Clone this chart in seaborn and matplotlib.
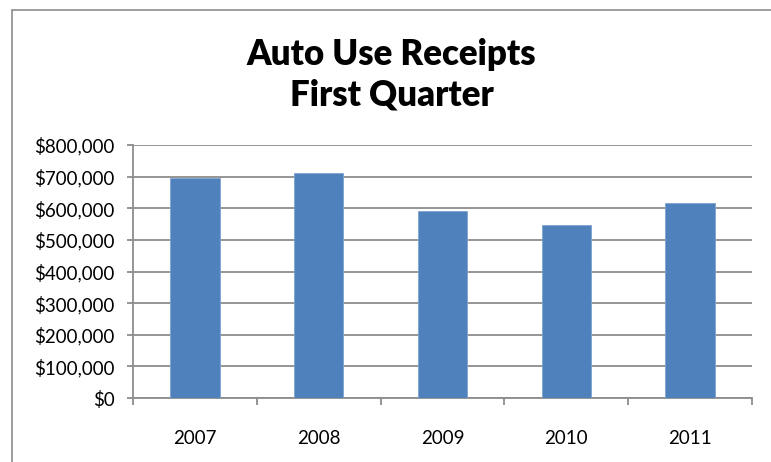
"""Auto use receipts, first quarter, bar chart in an Excel-like style."""

import matplotlib

matplotlib.use("Agg")
import matplotlib.pyplot as plt
import pandas as pd
import seaborn as sns
from matplotlib.lines import Line2D
from matplotlib.ticker import FuncFormatter, MultipleLocator

years = ["2007", "2008", "2009", "2010", "2011"]
receipts = [697000, 712000, 591000, 547000, 617000]
title = "Auto Use Receipts\nFirst Quarter"

BAR_COLOR = "#4F81BD"
GRID_COLOR = "#8C8C8C"


def dollars(value, _pos=None) -> str:
    return f"${value:,.0f}"


def main() -> None:
    sns.set_theme(style="white")
    plt.rcParams["font.family"] = ["Lato", "DejaVu Sans"]
    plt.rcParams["text.color"] = "black"

    df = pd.DataFrame({"year": years, "receipts": receipts})

    fig = plt.figure(figsize=(7.71, 4.62), dpi=100)
    ax = fig.add_axes([0.1725, 0.1385, 0.8029, 0.5476])

    sns.barplot(data=df, x="year", y="receipts", ax=ax, color=BAR_COLOR,
                width=0.4, saturation=1, edgecolor="#7FA3CF", linewidth=0.6, zorder=3)

    ax.set_ylim(0, 800000)
    ax.set_xlim(-0.5, len(years) - 0.5)
    ax.yaxis.set_major_locator(MultipleLocator(100000))
    ax.yaxis.set_major_formatter(FuncFormatter(dollars))
    ax.grid(axis="y", color=GRID_COLOR, linewidth=1.3, zorder=0)
    ax.set_xlabel("")
    ax.set_ylabel("")

    for side in ["top", "right"]:
        ax.spines[side].set_visible(False)
    for side in ["left", "bottom"]:
        ax.spines[side].set_color(GRID_COLOR)
        ax.spines[side].set_linewidth(1.3)

    ax.tick_params(axis="y", which="major", left=True, length=4, width=1.3,
                   color=GRID_COLOR, pad=9, labelsize=13.5, labelcolor="black")
    ax.set_xticks([i - 0.5 for i in range(len(years) + 1)], minor=True)
    ax.tick_params(axis="x", which="major", bottom=False, length=0, pad=23,
                   labelsize=13.5, labelcolor="black")
    ax.tick_params(axis="x", which="minor", bottom=True, length=5, width=1.3,
                   color=GRID_COLOR)

    fig.text(0.508, 0.838, title, ha="center", va="center", fontsize=25,
             fontweight="heavy", color="black", linespacing=1.25)

    # outer chart border (left and top edges visible)
    x0 = 12 / 771
    y1 = 1 - 10 / 462
    fig.add_artist(Line2D([x0, x0], [0, y1], color="#8C8C8C", lw=1.2))
    fig.add_artist(Line2D([x0, 1], [y1, y1], color="#8C8C8C", lw=1.2))

    fig.savefig("out.png", dpi=100)
    plt.close(fig)


if __name__ == "__main__":
    main()
